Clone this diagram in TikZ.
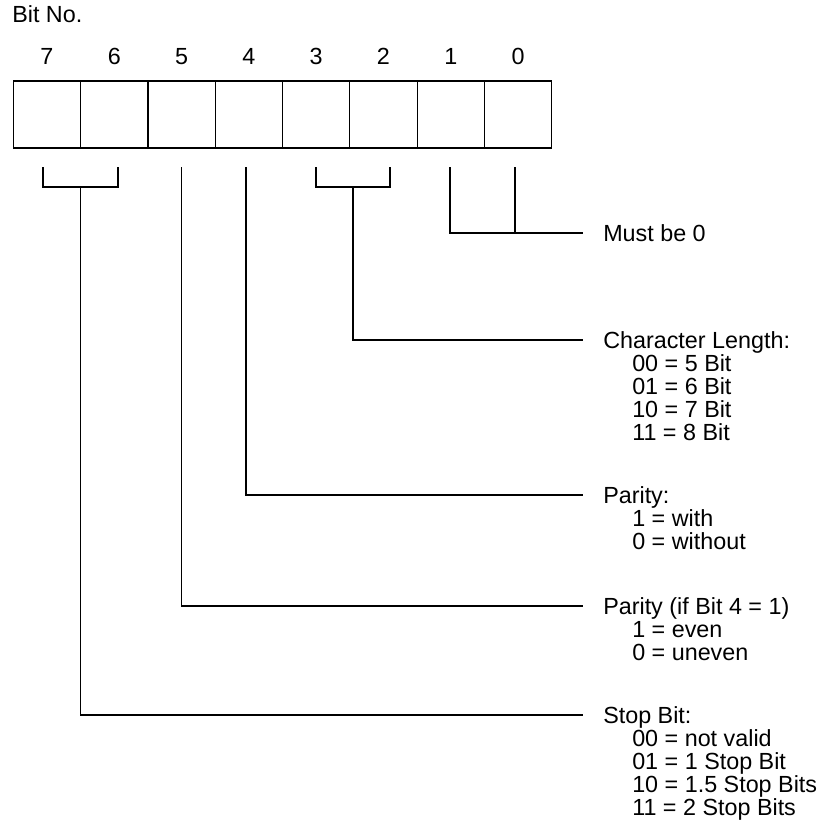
\documentclass[tikz,border=0pt]{standalone}
\usepackage{fontspec}
\setmainfont{Liberation Sans}
\begin{document}
\begin{tikzpicture}[x=0.75pt,y=-0.75pt,
  cell/.style={draw, line width=0.9pt, minimum width=50.48pt, minimum height=50.25pt, inner sep=0pt, outer sep=0pt, anchor=north west},
  lbl/.style={anchor=base west, inner sep=0pt, font=\fontsize{17.5pt}{20pt}\selectfont},
  num/.style={anchor=base, inner sep=0pt, font=\fontsize{17.5pt}{20pt}\selectfont},
  conn/.style={line width=0.8pt}]
\useasboundingbox (0,0) rectangle (822,836);
% register cells and bit numbers
\node[lbl] (bitno) at (12,22) {Bit No.};
\foreach \i/\b in {0/7,1/6,2/5,3/4,4/3,5/2,6/1,7/0} {
  \node[cell] (c\b) at ({13.3+67.3*\i},81) {};
  \node[num] (n\b) at ({13.3+67.3*\i+33.65},64) {\b};
}
% drop points under the cells
\coordinate (d7) at (43,167);
\coordinate (d6) at (118,167);
\coordinate (d5) at (181.5,167);
\coordinate (d4) at (246,167);
\coordinate (d3) at (316,167);
\coordinate (d2) at (390,167);
\coordinate (d1) at (450,167);
\coordinate (d0) at (515,167);
% end points of the leader lines
\coordinate (eMust) at (582.7,233);
\coordinate (eChar) at (582.7,340);
\coordinate (ePar) at (582.7,495);
\coordinate (ePar2) at (582.7,606);
\coordinate (eStop) at (582.7,715);
% labels
\def\ls{23}
\node[lbl] (must) at (603,241) {Must be 0};
\node[lbl] (char) at (603,348) {Character Length:};
\node[lbl] (char1) at (632,{348+\ls}) {00 = 5 Bit};
\node[lbl] (char2) at (632,{348+2*\ls}) {01 = 6 Bit};
\node[lbl] (char3) at (632,{348+3*\ls}) {10 = 7 Bit};
\node[lbl] (char4) at (632,{348+4*\ls}) {11 = 8 Bit};
\node[lbl] (par) at (603,503) {Parity:};
\node[lbl] (par1) at (632,{503+\ls}) {1 = with};
\node[lbl] (par2) at (632,{503+2*\ls}) {0 = without};
\node[lbl] (pif) at (603,614) {Parity (if Bit 4 = 1)};
\node[lbl] (pif1) at (632,{614+\ls}) {1 = even};
\node[lbl] (pif2) at (632,{614+2*\ls}) {0 = uneven};
\node[lbl] (stop) at (603,723) {Stop Bit:};
\node[lbl] (stop1) at (632,{723+\ls}) {00 = not valid};
\node[lbl] (stop2) at (632,{723+2*\ls}) {01 = 1 Stop Bit};
\node[lbl] (stop3) at (632,{723+3*\ls}) {10 = 1.5 Stop Bits};
\node[lbl] (stop4) at (632,{723+4*\ls}) {11 = 2 Stop Bits};
% connectors
\draw[conn] (d7) -- ++(0,20) -| (d6);
\draw[conn] (80.5,187) |- (eStop);
\draw[conn] (d5) |- (ePar2);
\draw[conn] (d4) |- (ePar);
\draw[conn] (d3) -- ++(0,20) -| (d2);
\draw[conn] (353,187) |- (eChar);
\draw[conn] (d1) |- (eMust);
\draw[conn] (d0) -- (d0 |- eMust);
\end{tikzpicture}
\end{document}
